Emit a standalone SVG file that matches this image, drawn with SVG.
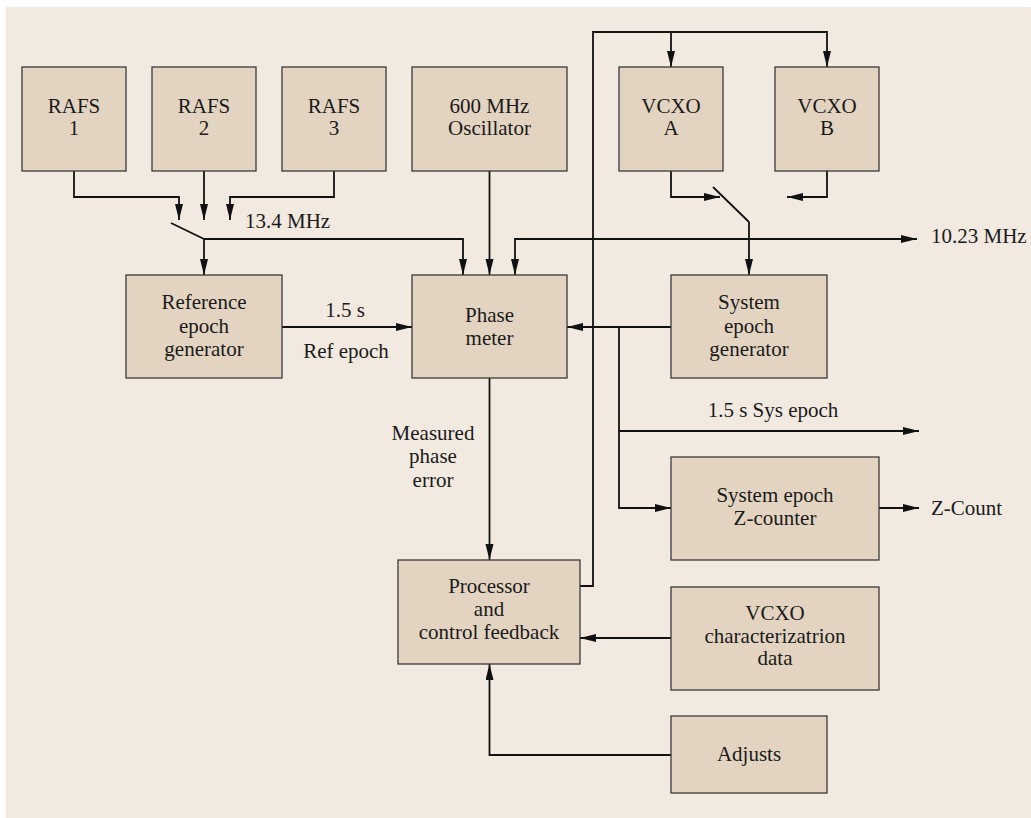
<svg xmlns="http://www.w3.org/2000/svg" width="1031" height="818" viewBox="0 0 1031 818">
  <style>
    .box { fill: #E3D4C1; stroke: #3a3a3a; stroke-width: 1.3; }
    .lbl { font-family: "Liberation Serif", "Times New Roman", serif; font-size: 21px; fill: #1a1a1a; text-anchor: middle; }
    .lft { text-anchor: start; }
    .wire { fill: none; stroke: #111; stroke-width: 1.8; }
    .arr { marker-end: url(#head); }
  </style>
  <defs>
    <marker id="head" markerUnits="userSpaceOnUse" markerWidth="17" markerHeight="9" refX="16" refY="4" orient="auto">
      <path d="M0,0 L16,4 L0,8 Z" fill="#111"/>
    </marker>
  </defs>

  <!-- backdrop -->
  <rect x="6" y="7" width="1025" height="811" fill="#F2E9E0"/>

  <!-- signal paths -->
  <g id="connectors">
    <path class="wire arr" d="M74,171 V197 H179 V220"/>
    <path class="wire arr" d="M204,171 V220"/>
    <path class="wire arr" d="M334,171 V197 H230 V220"/>
    <path class="wire" d="M171,223 L204,239"/>
    <path class="wire arr" d="M204,239 V275"/>
    <path class="wire arr" d="M204,239 H463 V275"/>
    <path class="wire arr" d="M489.5,171 V275"/>
    <path class="wire arr" d="M749,239 H515 V275"/>
    <path class="wire arr" d="M749,239 H917"/>
    <path class="wire" d="M713,187 L749,222"/>
    <path class="wire arr" d="M749,222 V275"/>
    <path class="wire arr" d="M671,171 V197 H720"/>
    <path class="wire arr" d="M827,171 V197 H787"/>
    <path class="wire arr" d="M580,586 H593 V32 H827 V67"/>
    <path class="wire arr" d="M671,32 V67"/>
    <path class="wire arr" d="M282,327 H412"/>
    <path class="wire arr" d="M671,327 H567"/>
    <path class="wire arr" d="M619,327 V508 H671"/>
    <path class="wire arr" d="M619,431 H919"/>
    <path class="wire arr" d="M879,508 H919"/>
    <path class="wire arr" d="M489.5,378 V560"/>
    <path class="wire arr" d="M671,638 H580"/>
    <path class="wire arr" d="M671,755 H489.5 V664"/>

    <text class="lbl lft" x="245" y="228">13.4 MHz</text>
    <text class="lbl lft" x="931" y="243">10.23 MHz</text>
    <text class="lbl" x="345" y="317">1.5 s</text>
    <text class="lbl" x="346" y="358">Ref epoch</text>
    <text class="lbl" x="773" y="417">1.5 s Sys epoch</text>
    <text class="lbl lft" x="931" y="515">Z-Count</text>
    <text class="lbl" x="433" y="440">Measured</text>
    <text class="lbl" x="433" y="463">phase</text>
    <text class="lbl" x="433" y="487">error</text>
  </g>

  <g id="rafs1">
    <rect class="box" x="22" y="67" width="104" height="104"/>
    <text class="lbl" x="74" y="113">RAFS</text>
    <text class="lbl" x="74" y="135">1</text>
  </g>
  <g id="rafs2">
    <rect class="box" x="152" y="67" width="104" height="104"/>
    <text class="lbl" x="204" y="113">RAFS</text>
    <text class="lbl" x="204" y="135">2</text>
  </g>
  <g id="rafs3">
    <rect class="box" x="282" y="67" width="104" height="104"/>
    <text class="lbl" x="334" y="113">RAFS</text>
    <text class="lbl" x="334" y="135">3</text>
  </g>
  <g id="osc600">
    <rect class="box" x="412" y="67" width="155" height="104"/>
    <text class="lbl" x="489.5" y="113">600 MHz</text>
    <text class="lbl" x="489.5" y="135">Oscillator</text>
  </g>
  <g id="vcxoA">
    <rect class="box" x="619" y="67" width="104" height="104"/>
    <text class="lbl" x="671" y="113">VCXO</text>
    <text class="lbl" x="671" y="135">A</text>
  </g>
  <g id="vcxoB">
    <rect class="box" x="775" y="67" width="104" height="104"/>
    <text class="lbl" x="827" y="113">VCXO</text>
    <text class="lbl" x="827" y="135">B</text>
  </g>
  <g id="refEpoch">
    <rect class="box" x="126" y="275" width="156" height="103"/>
    <text class="lbl" x="204" y="309">Reference</text>
    <text class="lbl" x="204" y="333">epoch</text>
    <text class="lbl" x="204" y="356">generator</text>
  </g>
  <g id="phaseMeter">
    <rect class="box" x="412" y="275" width="155" height="103"/>
    <text class="lbl" x="489.5" y="322">Phase</text>
    <text class="lbl" x="489.5" y="345">meter</text>
  </g>
  <g id="sysEpoch">
    <rect class="box" x="671" y="275" width="156" height="103"/>
    <text class="lbl" x="749" y="309">System</text>
    <text class="lbl" x="749" y="333">epoch</text>
    <text class="lbl" x="749" y="356">generator</text>
  </g>
  <g id="zCounter">
    <rect class="box" x="671" y="457" width="208" height="103"/>
    <text class="lbl" x="775" y="502">System epoch</text>
    <text class="lbl" x="775" y="525">Z-counter</text>
  </g>
  <g id="processor">
    <rect class="box" x="398" y="560" width="182" height="104"/>
    <text class="lbl" x="489" y="593">Processor</text>
    <text class="lbl" x="489" y="616">and</text>
    <text class="lbl" x="489" y="639">control feedback</text>
  </g>
  <g id="vcxoChar">
    <rect class="box" x="671" y="587" width="208" height="103"/>
    <text class="lbl" x="775" y="620">VCXO</text>
    <text class="lbl" x="775" y="643">characterizatrion</text>
    <text class="lbl" x="775" y="665">data</text>
  </g>
  <g id="adjusts">
    <rect class="box" x="671" y="716" width="156" height="77"/>
    <text class="lbl" x="749" y="761">Adjusts</text>
  </g>
</svg>
